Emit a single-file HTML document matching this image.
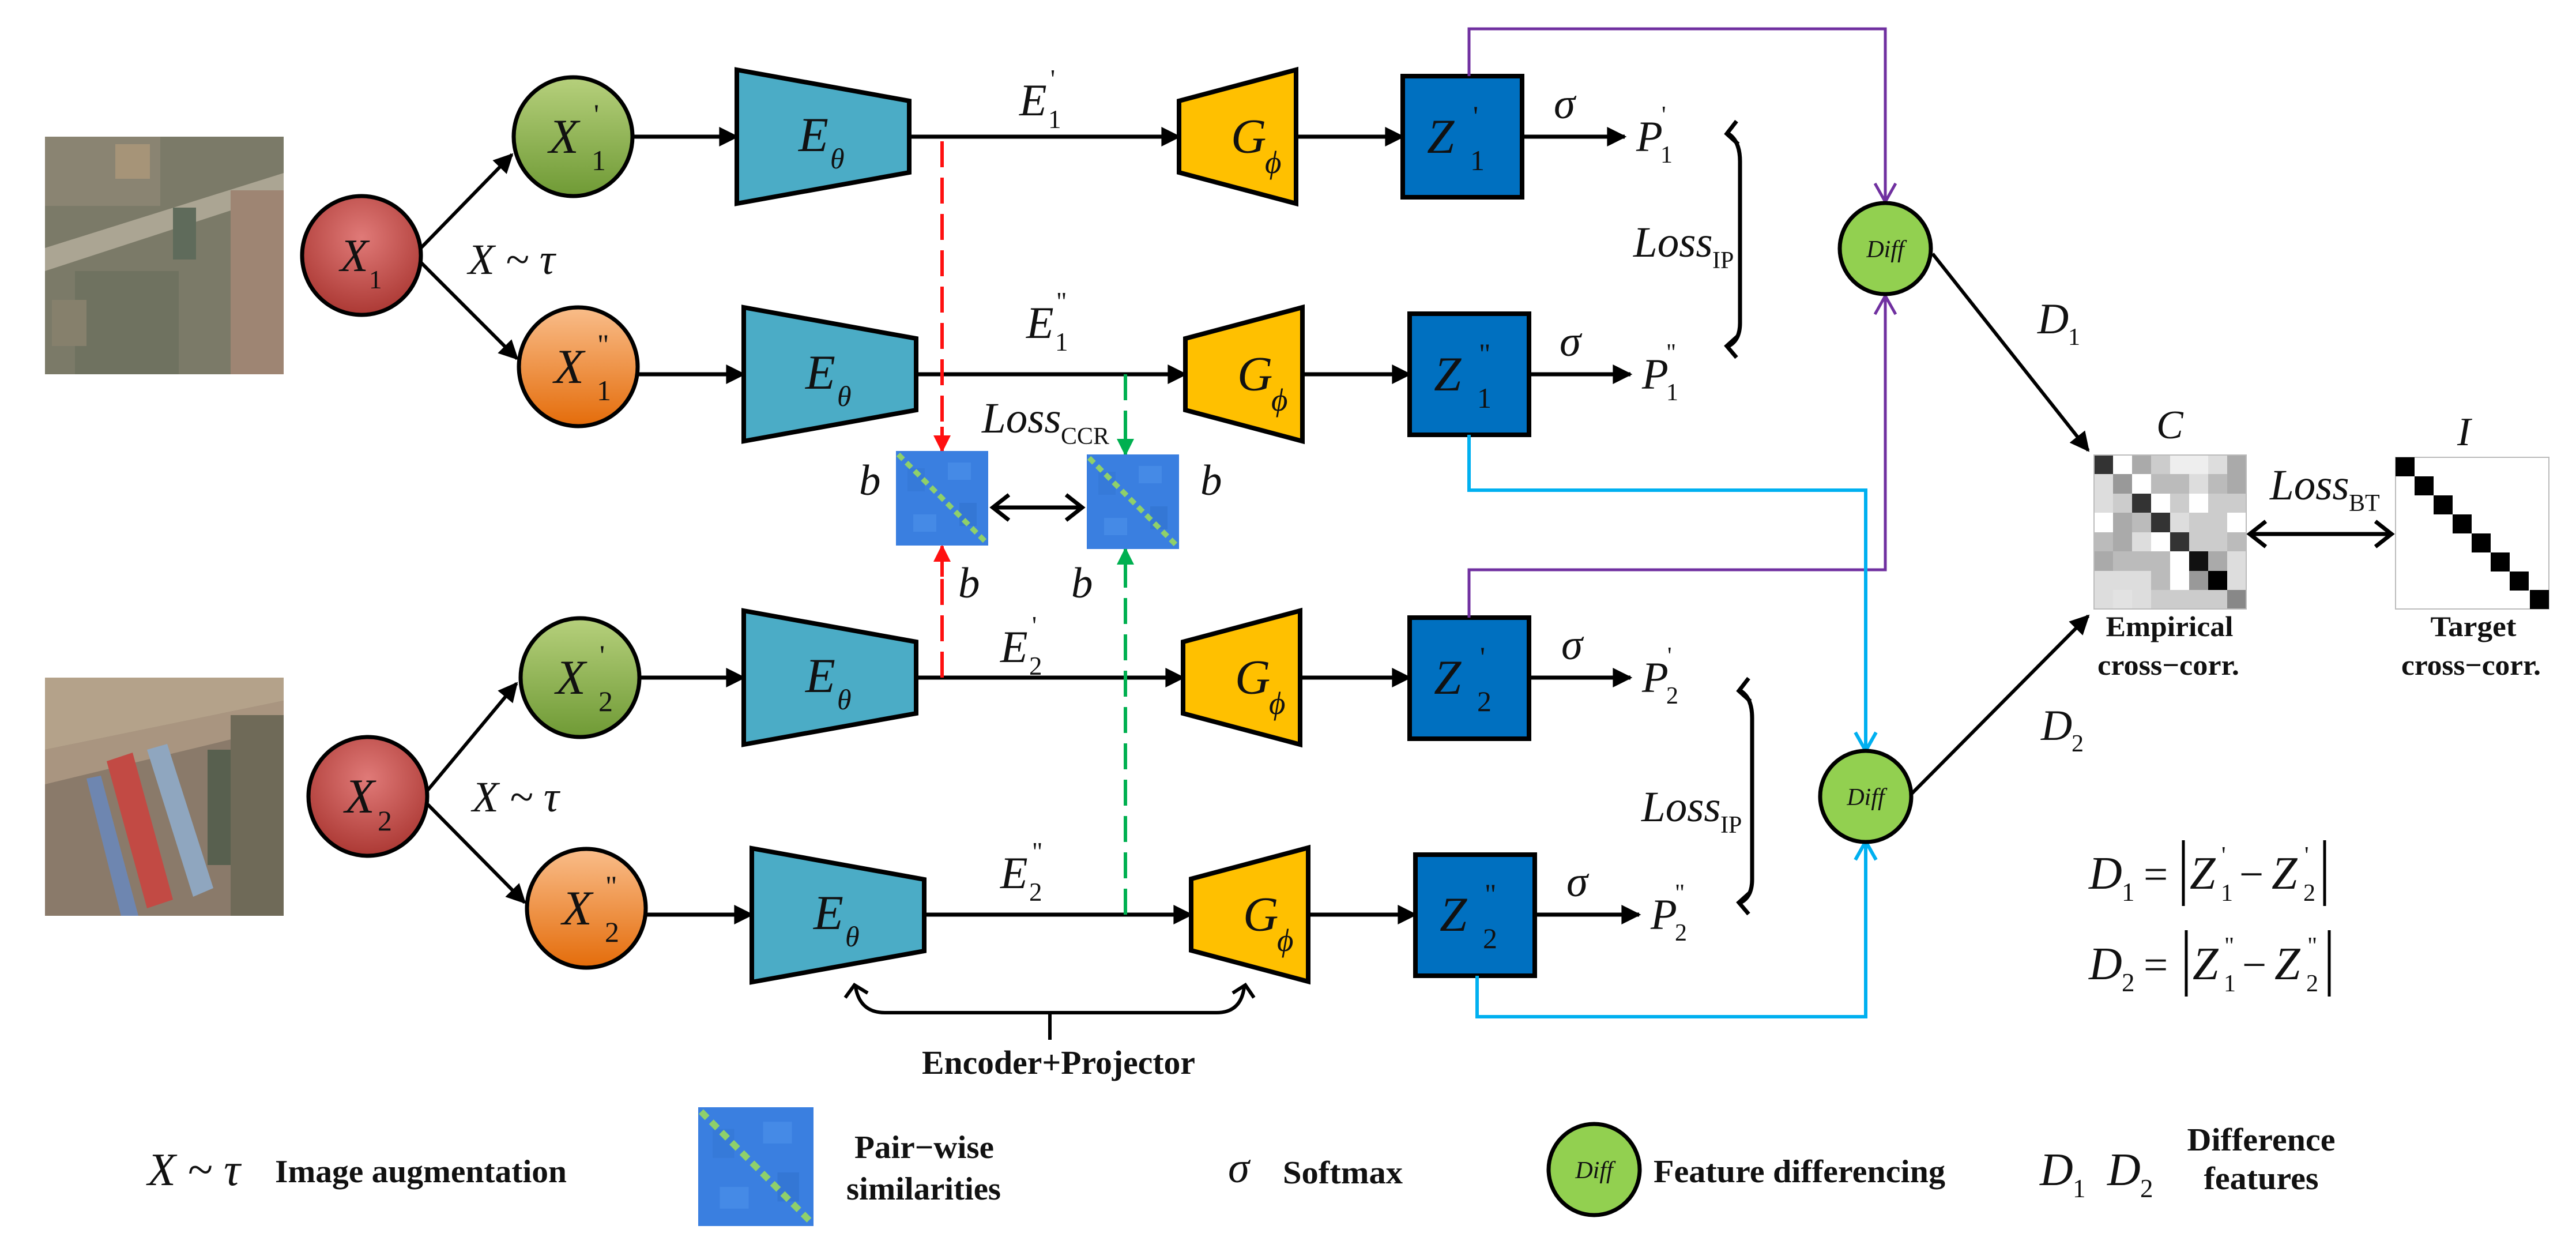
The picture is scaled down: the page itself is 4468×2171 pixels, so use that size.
<!DOCTYPE html>
<html><head><meta charset="utf-8"><style>
html,body{margin:0;padding:0;background:#fff;}
svg{display:block;}
text{font-family:"Liberation Serif","Times New Roman","DejaVu Serif",serif;}
.m{font-style:italic;fill:#111;}
.n{fill:#111;}
.b{font-weight:bold;fill:#111;}
</style></head><body>
<svg width="4468" height="2171" viewBox="0 0 4468 2171" xmlns="http://www.w3.org/2000/svg" font-family="Liberation Serif, Times New Roman, DejaVu Serif, serif">
<defs>
<marker id="ah" viewBox="0 0 10 10" refX="9" refY="5" markerWidth="44" markerHeight="34" markerUnits="userSpaceOnUse" orient="auto"><path d="M0,0 L10,5 L0,10 z" fill="#000"/></marker>
<marker id="ahR" viewBox="0 0 10 10" refX="9" refY="5" markerWidth="44" markerHeight="30" markerUnits="userSpaceOnUse" orient="auto"><path d="M0,0 L10,5 L0,10 z" fill="#ff1010"/></marker>
<marker id="ahG" viewBox="0 0 10 10" refX="9" refY="5" markerWidth="44" markerHeight="30" markerUnits="userSpaceOnUse" orient="auto"><path d="M0,0 L10,5 L0,10 z" fill="#00b050"/></marker>
<radialGradient id="gRed" cx="0.5" cy="0.35" r="0.7"><stop offset="0" stop-color="#e07a78"/><stop offset="1" stop-color="#a8342f"/></radialGradient>
<linearGradient id="gGreen" x1="0" y1="0" x2="0" y2="1"><stop offset="0" stop-color="#b6d07c"/><stop offset="1" stop-color="#6f9a35"/></linearGradient>
<linearGradient id="gOrange" x1="0" y1="0" x2="0" y2="1"><stop offset="0" stop-color="#f9bd8a"/><stop offset="1" stop-color="#e46c0a"/></linearGradient>
<g id="sim">
<rect x="0" y="0" width="160" height="164" fill="#3a7fe0"/>
<rect x="20" y="30" width="30" height="40" fill="#3478d6" opacity="0.7"/>
<rect x="90" y="20" width="40" height="30" fill="#4a8ee8" opacity="0.7"/>
<rect x="30" y="110" width="40" height="30" fill="#4a8ee8" opacity="0.7"/>
<rect x="110" y="90" width="30" height="40" fill="#3274d0" opacity="0.7"/>
<path d="M4,6 L156,158" stroke="#8fd06a" stroke-width="9" stroke-dasharray="12 8"/>
</g>
</defs>

<g>
<rect x="78" y="237" width="414" height="412" fill="#7b7a68"/>
<rect x="78" y="237" width="200" height="120" fill="#8a8472"/>
<rect x="130" y="470" width="180" height="179" fill="#6f7260"/>
<polygon points="78,430 492,300 492,335 78,470" fill="#aba593"/>
<rect x="400" y="330" width="92" height="319" fill="#9e8573"/>
<rect x="300" y="360" width="40" height="90" fill="#5f6b5b"/>
<rect x="200" y="250" width="60" height="60" fill="#a69478"/>
<rect x="90" y="520" width="60" height="80" fill="#86806c"/>
</g>
<g>
<rect x="78" y="1175" width="414" height="413" fill="#8a7a6a"/>
<polygon points="78,1175 492,1175 492,1215 78,1300" fill="#b4a28a"/>
<polygon points="78,1300 492,1215 492,1260 78,1360" fill="#a99580"/>
<polygon points="185,1320 230,1305 300,1560 255,1575" fill="#c24a44"/>
<polygon points="255,1300 290,1290 370,1540 335,1555" fill="#8fa6bf"/>
<polygon points="150,1350 175,1345 240,1588 210,1588" fill="#6e86b0"/>
<rect x="400" y="1240" width="92" height="348" fill="#6f6a58"/>
<rect x="360" y="1300" width="40" height="200" fill="#58604f"/>
</g>

<g stroke="#000" stroke-width="6" fill="none" marker-end="url(#ah)">
<line x1="730" y1="430" x2="888" y2="268"/>
<line x1="730" y1="455" x2="897" y2="622"/>
<line x1="742" y1="1370" x2="896" y2="1185"/>
<line x1="742" y1="1395" x2="910" y2="1565"/>
</g>
<text class="m" x="812" y="475" font-size="75">X ~ τ</text>
<text class="m" x="819" y="1407" font-size="75">X ~ τ</text>

<g stroke="#000" stroke-width="7">
<circle cx="627" cy="443" r="103" fill="url(#gRed)"/>
<circle cx="638" cy="1381" r="103" fill="url(#gRed)"/>
<circle cx="994" cy="237" r="103" fill="url(#gGreen)"/>
<circle cx="1006" cy="1175" r="103" fill="url(#gGreen)"/>
<circle cx="1003" cy="636" r="103" fill="url(#gOrange)"/>
<circle cx="1017" cy="1575" r="103" fill="url(#gOrange)"/>
</g>
<text class="m" x="590" y="470" font-size="80">X</text><text class="n" x="640" y="500" font-size="45">1</text>
<text class="m" x="598" y="1409" font-size="85">X</text><text class="n" x="655" y="1440" font-size="50">2</text>
<text class="m" x="952" y="265" font-size="85">X</text><text class="n" x="1030" y="215" font-size="50">'</text><text class="n" x="1026" y="295" font-size="50">1</text>
<text class="m" x="961" y="664" font-size="85">X</text><text class="n" x="1036" y="614" font-size="50">"</text><text class="n" x="1035" y="694" font-size="50">1</text>
<text class="m" x="964" y="1203" font-size="85">X</text><text class="n" x="1040" y="1153" font-size="50">'</text><text class="n" x="1038" y="1233" font-size="50">2</text>
<text class="m" x="975" y="1603" font-size="85">X</text><text class="n" x="1050" y="1553" font-size="50">"</text><text class="n" x="1049" y="1633" font-size="50">2</text>

<g stroke="#000" stroke-width="7" fill="none" marker-end="url(#ah)">
<line x1="1097" y1="237" x2="1278" y2="237"/>
<line x1="1577" y1="237" x2="2045" y2="237"/>
<line x1="2248" y1="237" x2="2433" y2="237"/>
<line x1="2640" y1="237" x2="2818" y2="237"/>
<line x1="1106" y1="649" x2="1290" y2="649"/>
<line x1="1589" y1="649" x2="2056" y2="649"/>
<line x1="2259" y1="649" x2="2445" y2="649"/>
<line x1="2652" y1="649" x2="2828" y2="649"/>
<line x1="1109" y1="1175" x2="1290" y2="1175"/>
<line x1="1589" y1="1175" x2="2052" y2="1175"/>
<line x1="2255" y1="1175" x2="2445" y2="1175"/>
<line x1="2652" y1="1175" x2="2828" y2="1175"/>
<line x1="1120" y1="1586" x2="1304" y2="1586"/>
<line x1="1603" y1="1586" x2="2066" y2="1586"/>
<line x1="2269" y1="1586" x2="2455" y2="1586"/>
<line x1="2664" y1="1586" x2="2843" y2="1586"/>
</g>

<g fill="#4bacc6" stroke="#000" stroke-width="8" stroke-linejoin="miter">
<polygon points="1278,121 1577,175 1577,299 1278,353"/>
<polygon points="1290,533 1589,587 1589,711 1290,765"/>
<polygon points="1290,1059 1589,1113 1589,1237 1290,1291"/>
<polygon points="1304,1471 1603,1525 1603,1649 1304,1703"/>
</g>
<g>
<text class="m" x="1385" y="262" font-size="85">E</text><text class="m" x="1440" y="292" font-size="50">θ</text>
<text class="m" x="1397" y="674" font-size="85">E</text><text class="m" x="1452" y="704" font-size="50">θ</text>
<text class="m" x="1397" y="1200" font-size="85">E</text><text class="m" x="1452" y="1230" font-size="50">θ</text>
<text class="m" x="1411" y="1611" font-size="85">E</text><text class="m" x="1466" y="1641" font-size="50">θ</text>
</g>

<g fill="#ffc000" stroke="#000" stroke-width="8">
<polygon points="2045,175 2248,121 2248,353 2045,299"/>
<polygon points="2056,587 2259,533 2259,765 2056,711"/>
<polygon points="2052,1113 2255,1059 2255,1291 2052,1237"/>
<polygon points="2066,1524 2269,1470 2269,1702 2066,1648"/>
</g>
<g>
<text class="m" x="2135" y="265" font-size="85">G</text><text class="m" x="2194" y="300" font-size="55">ϕ</text>
<text class="m" x="2146" y="677" font-size="85">G</text><text class="m" x="2205" y="712" font-size="55">ϕ</text>
<text class="m" x="2142" y="1203" font-size="85">G</text><text class="m" x="2201" y="1238" font-size="55">ϕ</text>
<text class="m" x="2156" y="1614" font-size="85">G</text><text class="m" x="2215" y="1649" font-size="55">ϕ</text>
</g>

<g fill="#0070c0" stroke="#000" stroke-width="8">
<rect x="2433" y="132" width="207" height="210"/>
<rect x="2445" y="544" width="207" height="210"/>
<rect x="2445" y="1071" width="207" height="210"/>
<rect x="2455" y="1482" width="207" height="210"/>
</g>
<g>
<text class="m" x="2475" y="265" font-size="85">Z</text><text class="n" x="2555" y="218" font-size="50">'</text><text class="n" x="2550" y="295" font-size="50">1</text>
<text class="m" x="2487" y="677" font-size="85">Z</text><text class="n" x="2565" y="630" font-size="50">"</text><text class="n" x="2562" y="707" font-size="50">1</text>
<text class="m" x="2487" y="1203" font-size="85">Z</text><text class="n" x="2567" y="1156" font-size="50">'</text><text class="n" x="2562" y="1233" font-size="50">2</text>
<text class="m" x="2497" y="1614" font-size="85">Z</text><text class="n" x="2575" y="1567" font-size="50">"</text><text class="n" x="2572" y="1644" font-size="50">2</text>
</g>

<g>
<text class="m" x="2695" y="205" font-size="75">σ</text>
<text class="m" x="2705" y="617" font-size="75">σ</text>
<text class="m" x="2708" y="1143" font-size="75">σ</text>
<text class="m" x="2717" y="1554" font-size="75">σ</text>
<text class="m" x="2838" y="262" font-size="75">P</text><text class="n" x="2882" y="213" font-size="42">'</text><text class="n" x="2880" y="282" font-size="42">1</text>
<text class="m" x="2848" y="674" font-size="75">P</text><text class="n" x="2890" y="625" font-size="42">"</text><text class="n" x="2890" y="694" font-size="42">1</text>
<text class="m" x="2848" y="1200" font-size="75">P</text><text class="n" x="2892" y="1151" font-size="42">'</text><text class="n" x="2890" y="1220" font-size="42">2</text>
<text class="m" x="2863" y="1611" font-size="75">P</text><text class="n" x="2905" y="1562" font-size="42">"</text><text class="n" x="2905" y="1631" font-size="42">2</text>
</g>

<g>
<text class="m" x="1768" y="200" font-size="78">E</text><text class="n" x="1822" y="152" font-size="45">'</text><text class="n" x="1818" y="222" font-size="45">1</text>
<text class="m" x="1780" y="586" font-size="78">E</text><text class="n" x="1832" y="538" font-size="45">"</text><text class="n" x="1830" y="608" font-size="45">1</text>
<text class="m" x="1735" y="1148" font-size="78">E</text><text class="n" x="1790" y="1100" font-size="45">'</text><text class="n" x="1785" y="1170" font-size="45">2</text>
<text class="m" x="1735" y="1540" font-size="78">E</text><text class="n" x="1790" y="1492" font-size="45">"</text><text class="n" x="1785" y="1562" font-size="45">2</text>
</g>

<g stroke="#000" stroke-width="7" fill="none">
<path d="M2998,232 Q3018,245 3018,280 L3018,560 Q3018,590 2998,600"/>
<path d="M3012,210 L2995,232 L3015,250"/>
<path d="M3015,582 L2995,600 L3012,620"/>
<path d="M3019,1198 Q3039,1210 3039,1245 L3039,1525 Q3039,1555 3019,1565"/>
<path d="M3033,1176 L3016,1198 L3036,1216"/>
<path d="M3036,1547 L3016,1565 L3033,1585"/>
</g>
<text class="m" x="2833" y="445" font-size="75">Loss</text><text class="n" x="2970" y="465" font-size="42">IP</text>
<text class="m" x="2847" y="1424" font-size="75">Loss</text><text class="n" x="2984" y="1444" font-size="42">IP</text>

<g stroke-width="6" fill="none" stroke-dasharray="45 18">
<line x1="1634" y1="245" x2="1634" y2="740" stroke="#ff1010"/>
<line x1="1634" y1="1175" x2="1634" y2="1000" stroke="#ff1010"/>
<line x1="1952" y1="649" x2="1952" y2="745" stroke="#00b050"/>
<line x1="1952" y1="1586" x2="1952" y2="1000" stroke="#00b050"/>
</g>
<g stroke-width="6">
<line x1="1634" y1="740" x2="1634" y2="782" stroke="#ff1010" marker-end="url(#ahR)"/>
<line x1="1634" y1="1000" x2="1634" y2="947" stroke="#ff1010" marker-end="url(#ahR)"/>
<line x1="1952" y1="745" x2="1952" y2="788" stroke="#00b050" marker-end="url(#ahG)"/>
<line x1="1952" y1="1000" x2="1952" y2="952" stroke="#00b050" marker-end="url(#ahG)"/>
</g>

<use href="#sim" x="1554" y="782"/>
<use href="#sim" x="1885" y="788"/>
<g stroke="#000" stroke-width="7" fill="none">
<line x1="1722" y1="880" x2="1877" y2="880"/>
<path d="M1750,858 L1722,880 L1750,902"/>
<path d="M1849,858 L1877,880 L1849,902"/>
</g>
<text class="m" x="1703" y="750" font-size="75">Loss</text><text class="n" x="1840" y="770" font-size="42">CCR</text>
<text class="m" x="1490" y="858" font-size="75">b</text>
<text class="m" x="2082" y="858" font-size="75">b</text>
<text class="m" x="1662" y="1036" font-size="75">b</text>
<text class="m" x="1858" y="1036" font-size="75">b</text>

<g stroke="#7030a0" stroke-width="5" fill="none">
<polyline points="2548,132 2548,50 3270,50 3270,348"/>
<polyline points="2548,1071 2548,988 3270,988 3270,515"/>
<path d="M3252,318 L3270,350 L3288,318"/>
<path d="M3252,545 L3270,513 L3288,545"/>
</g>
<g stroke="#00b0f0" stroke-width="6" fill="none">
<polyline points="2548,754 2548,850 3236,850 3236,1299"/>
<polyline points="2562,1692 2562,1763 3236,1763 3236,1462"/>
<path d="M3218,1270 L3236,1302 L3254,1270"/>
<path d="M3218,1491 L3236,1459 L3254,1491"/>
</g>

<g stroke="#000" stroke-width="7" fill="#92d050">
<circle cx="3270" cy="431" r="79"/>
<circle cx="3236" cy="1381" r="79"/>
</g>
<text class="m" x="3270" y="446" font-size="42" text-anchor="middle">Diff</text>
<text class="m" x="3236" y="1396" font-size="42" text-anchor="middle">Diff</text>

<g stroke="#000" stroke-width="6" marker-end="url(#ah)">
<line x1="3352" y1="440" x2="3622" y2="781"/>
<line x1="3316" y1="1376" x2="3622" y2="1068"/>
</g>
<text class="m" x="3534" y="578" font-size="75">D</text><text class="n" x="3587" y="598" font-size="42">1</text>
<text class="m" x="3540" y="1283" font-size="75">D</text><text class="n" x="3593" y="1303" font-size="42">2</text>

<g transform="translate(3632,789)">
<g shape-rendering="crispEdges">
<rect x="0" y="0" width="33" height="33" fill="#333"/><rect x="33" y="0" width="33" height="33" fill="#fff"/><rect x="66" y="0" width="33" height="33" fill="#aaa"/><rect x="99" y="0" width="33" height="33" fill="#ccc"/><rect x="132" y="0" width="33" height="33" fill="#eee"/><rect x="165" y="0" width="33" height="33" fill="#eee"/><rect x="198" y="0" width="33" height="33" fill="#ddd"/><rect x="231" y="0" width="33" height="33" fill="#aaa"/>
<rect x="0" y="33" width="33" height="34" fill="#ddd"/><rect x="33" y="33" width="33" height="34" fill="#999"/><rect x="66" y="33" width="33" height="34" fill="#fff"/><rect x="99" y="33" width="33" height="34" fill="#bbb"/><rect x="132" y="33" width="33" height="34" fill="#bbb"/><rect x="165" y="33" width="33" height="34" fill="#ddd"/><rect x="198" y="33" width="33" height="34" fill="#bbb"/><rect x="231" y="33" width="33" height="34" fill="#aaa"/>
<rect x="0" y="67" width="33" height="33" fill="#ddd"/><rect x="33" y="67" width="33" height="33" fill="#ccc"/><rect x="66" y="67" width="33" height="33" fill="#333"/><rect x="99" y="67" width="33" height="33" fill="#fff"/><rect x="132" y="67" width="33" height="33" fill="#ccc"/><rect x="165" y="67" width="33" height="33" fill="#fff"/><rect x="198" y="67" width="33" height="33" fill="#ccc"/><rect x="231" y="67" width="33" height="33" fill="#ccc"/>
<rect x="0" y="100" width="33" height="34" fill="#fff"/><rect x="33" y="100" width="33" height="34" fill="#aaa"/><rect x="66" y="100" width="33" height="34" fill="#bbb"/><rect x="99" y="100" width="33" height="34" fill="#333"/><rect x="132" y="100" width="33" height="34" fill="#ddd"/><rect x="165" y="100" width="33" height="34" fill="#ccc"/><rect x="198" y="100" width="33" height="34" fill="#ccc"/><rect x="231" y="100" width="33" height="34" fill="#fff"/>
<rect x="0" y="134" width="33" height="33" fill="#bbb"/><rect x="33" y="134" width="33" height="33" fill="#aaa"/><rect x="66" y="134" width="33" height="33" fill="#ddd"/><rect x="99" y="134" width="33" height="33" fill="#fff"/><rect x="132" y="134" width="33" height="33" fill="#333"/><rect x="165" y="134" width="33" height="33" fill="#ccc"/><rect x="198" y="134" width="33" height="33" fill="#ccc"/><rect x="231" y="134" width="33" height="33" fill="#bbb"/>
<rect x="0" y="167" width="33" height="34" fill="#aaa"/><rect x="33" y="167" width="33" height="34" fill="#bbb"/><rect x="66" y="167" width="33" height="34" fill="#bbb"/><rect x="99" y="167" width="33" height="34" fill="#bbb"/><rect x="132" y="167" width="33" height="34" fill="#fff"/><rect x="165" y="167" width="33" height="34" fill="#111"/><rect x="198" y="167" width="33" height="34" fill="#aaa"/><rect x="231" y="167" width="33" height="34" fill="#ddd"/>
<rect x="0" y="201" width="33" height="33" fill="#ddd"/><rect x="33" y="201" width="33" height="33" fill="#ddd"/><rect x="66" y="201" width="33" height="33" fill="#ddd"/><rect x="99" y="201" width="33" height="33" fill="#bbb"/><rect x="132" y="201" width="33" height="33" fill="#fff"/><rect x="165" y="201" width="33" height="33" fill="#999"/><rect x="198" y="201" width="33" height="33" fill="#000"/><rect x="231" y="201" width="33" height="33" fill="#ddd"/>
<rect x="0" y="234" width="33" height="33" fill="#ddd"/><rect x="33" y="234" width="33" height="33" fill="#e2e2e2"/><rect x="66" y="234" width="33" height="33" fill="#ddd"/><rect x="99" y="234" width="33" height="33" fill="#ccc"/><rect x="132" y="234" width="33" height="33" fill="#ccc"/><rect x="165" y="234" width="33" height="33" fill="#ccc"/><rect x="198" y="234" width="33" height="33" fill="#ccc"/><rect x="231" y="234" width="33" height="33" fill="#888"/>
</g>
<rect x="0" y="0" width="264" height="267" fill="none" stroke="#bbb" stroke-width="2"/>
</g>
<g transform="translate(4155,793)">
<rect x="0" y="0" width="266" height="263" fill="#fff" stroke="#bbb" stroke-width="2"/>
<g fill="#000" shape-rendering="crispEdges">
<rect x="0" y="0" width="33" height="33"/><rect x="33" y="33" width="33" height="33"/><rect x="66" y="66" width="33" height="33"/><rect x="99" y="99" width="33" height="33"/><rect x="132" y="132" width="33" height="33"/><rect x="165" y="165" width="33" height="33"/><rect x="198" y="198" width="33" height="33"/><rect x="233" y="230" width="33" height="33"/>
</g>
</g>
<text class="m" x="3740" y="760" font-size="70">C</text>
<text class="m" x="4262" y="772" font-size="70">I</text>
<g stroke="#000" stroke-width="7" fill="none">
<line x1="3902" y1="926" x2="4148" y2="926"/>
<path d="M3930,904 L3902,926 L3930,948"/>
<path d="M4120,904 L4148,926 L4120,948"/>
</g>
<text class="m" x="3937" y="866" font-size="75">Loss</text><text class="n" x="4074" y="886" font-size="42">BT</text>
<text class="b" x="3763" y="1103" font-size="50" text-anchor="middle" textLength="221" lengthAdjust="spacingAndGlyphs">Empirical</text>
<text class="b" x="3761" y="1170" font-size="50" text-anchor="middle" textLength="246" lengthAdjust="spacingAndGlyphs">cross−corr.</text>
<text class="b" x="4290" y="1103" font-size="50" text-anchor="middle" textLength="149" lengthAdjust="spacingAndGlyphs">Target</text>
<text class="b" x="4286" y="1170" font-size="50" text-anchor="middle" textLength="242" lengthAdjust="spacingAndGlyphs">cross−corr.</text>

<g>
<text class="m" x="3623" y="1541" font-size="80">D</text><text class="n" x="3680" y="1562" font-size="45">1</text>
<text class="n" x="3718" y="1541" font-size="75">=</text>
<line x1="3787" y1="1457" x2="3787" y2="1571" stroke="#000" stroke-width="5"/>
<text class="m" x="3798" y="1541" font-size="80">Z</text><text class="n" x="3853" y="1497" font-size="42">'</text><text class="n" x="3852" y="1562" font-size="42">1</text>
<text class="n" x="3884" y="1541" font-size="75">−</text>
<text class="m" x="3940" y="1541" font-size="80">Z</text><text class="n" x="3997" y="1497" font-size="42">'</text><text class="n" x="3995" y="1562" font-size="42">2</text>
<line x1="4032" y1="1457" x2="4032" y2="1571" stroke="#000" stroke-width="5"/>

<text class="m" x="3623" y="1698" font-size="80">D</text><text class="n" x="3680" y="1719" font-size="45">2</text>
<text class="n" x="3718" y="1698" font-size="75">=</text>
<line x1="3792" y1="1613" x2="3792" y2="1728" stroke="#000" stroke-width="5"/>
<text class="m" x="3803" y="1698" font-size="80">Z</text><text class="n" x="3858" y="1654" font-size="42">"</text><text class="n" x="3857" y="1719" font-size="42">1</text>
<text class="n" x="3889" y="1698" font-size="75">−</text>
<text class="m" x="3945" y="1698" font-size="80">Z</text><text class="n" x="4002" y="1654" font-size="42">"</text><text class="n" x="4000" y="1719" font-size="42">2</text>
<line x1="4040" y1="1613" x2="4040" y2="1728" stroke="#000" stroke-width="5"/>
</g>

<g stroke="#000" stroke-width="6" fill="none">
<path d="M1484,1712 Q1492,1756 1535,1756 L2110,1756 Q2152,1756 2158,1712"/>
<path d="M1466,1730 L1482,1708 L1505,1722"/>
<path d="M2138,1722 L2160,1708 L2175,1730"/>
<line x1="1821" y1="1756" x2="1821" y2="1803"/>
</g>
<text class="b" x="1836" y="1862" font-size="58" text-anchor="middle" textLength="474" lengthAdjust="spacingAndGlyphs">Encoder+Projector</text>

<text class="m" x="256" y="2055" font-size="80">X ~ τ</text>
<text class="b" x="477" y="2050" font-size="56" textLength="506" lengthAdjust="spacingAndGlyphs">Image augmentation</text>
<use href="#sim" transform="translate(1211,1920) scale(1.25,1.256)"/>
<text class="b" x="1603" y="2008" font-size="56" text-anchor="middle" textLength="242" lengthAdjust="spacingAndGlyphs">Pair−wise</text>
<text class="b" x="1602" y="2080" font-size="56" text-anchor="middle" textLength="268" lengthAdjust="spacingAndGlyphs">similarities</text>
<text class="m" x="2130" y="2050" font-size="75">σ</text>
<text class="b" x="2225" y="2052" font-size="56" textLength="208" lengthAdjust="spacingAndGlyphs">Softmax</text>
<circle cx="2765" cy="2028" r="79" fill="#92d050" stroke="#000" stroke-width="7"/>
<text class="m" x="2765" y="2043" font-size="42" text-anchor="middle">Diff</text>
<text class="b" x="2868" y="2050" font-size="56" textLength="506" lengthAdjust="spacingAndGlyphs">Feature differencing</text>
<text class="m" x="3538" y="2055" font-size="80">D</text><text class="n" x="3595" y="2076" font-size="45">1</text>
<text class="m" x="3655" y="2055" font-size="80">D</text><text class="n" x="3712" y="2076" font-size="45">2</text>
<text class="b" x="3922" y="1995" font-size="56" text-anchor="middle" textLength="257" lengthAdjust="spacingAndGlyphs">Difference</text>
<text class="b" x="3922" y="2062" font-size="56" text-anchor="middle" textLength="199" lengthAdjust="spacingAndGlyphs">features</text>
</svg>
</body></html>
